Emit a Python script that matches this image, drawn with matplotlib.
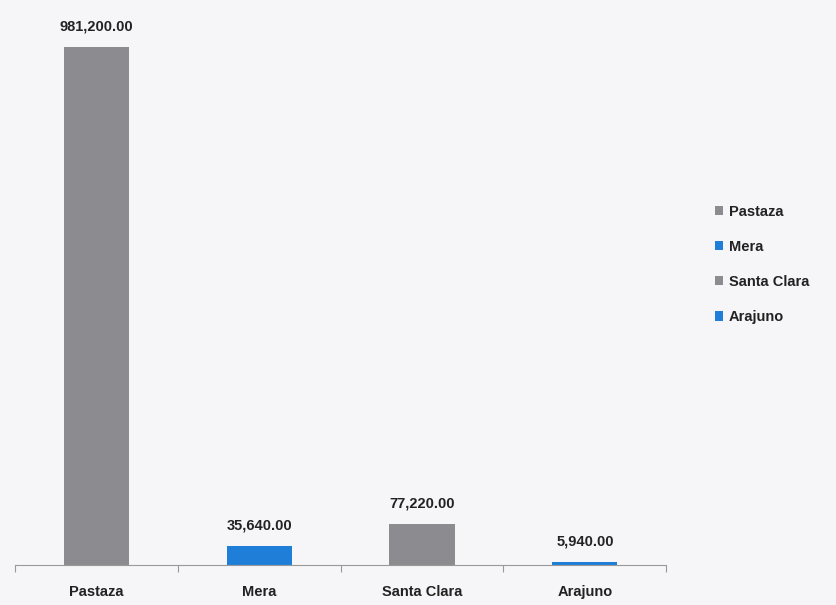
import matplotlib.pyplot as plt

# Datos por cantón
cantones = ["Pastaza", "Mera", "Santa Clara", "Arajuno"]
valores = [981200.00, 35640.00, 77220.00, 5940.00]
colores = ["#8b8b90", "#1f7fd8", "#8b8b90", "#1f7fd8"]

plt.rcParams['font.family'] = ['Liberation Sans Narrow', 'Liberation Sans', 'DejaVu Sans']

fig = plt.figure(figsize=(8.37, 6.05), dpi=100)
fig.patch.set_facecolor("#f6f6f8")
ax = fig.add_axes([0.018, 0.066, 0.778, 0.9])
ax.set_facecolor("none")

x = range(len(cantones))
bars = ax.bar(x, valores, width=0.4, color=colores, label=cantones)

for b, v in zip(bars, valores):
    ax.text(b.get_x() + b.get_width() / 2, v + 26000, f"{v:,.2f}",
            ha="center", va="bottom", fontsize=10.5, fontweight="bold", color="#222222")

ax.set_xlim(-0.5, len(cantones) - 0.5)
ax.set_ylim(0, 1032000)
ax.set_xticks([i - 0.5 for i in range(len(cantones) + 1)], minor=False)
ax.set_xticklabels([])
ax.tick_params(axis="x", length=5, color="#999999")
ax.set_xticks(list(x), minor=True)
ax.set_xticklabels(cantones, minor=True, fontsize=10.5, fontweight="bold", color="#222222")
ax.tick_params(axis="x", which="minor", length=0, pad=14)
ax.set_yticks([])
for s in ["top", "right", "left"]:
    ax.spines[s].set_visible(False)
ax.spines["bottom"].set_color("#999999")

leg = fig.legend(bars, cantones, loc="center left", bbox_to_anchor=(0.838, 0.563),
                 frameon=False, fontsize=10.5, handlelength=0.6, handleheight=0.6,
                 labelspacing=1.45, handletextpad=0.4)
for t in leg.get_texts():
    t.set_fontweight("bold")
    t.set_color("#222222")

fig.savefig("out.png", dpi=100, facecolor=fig.get_facecolor())
